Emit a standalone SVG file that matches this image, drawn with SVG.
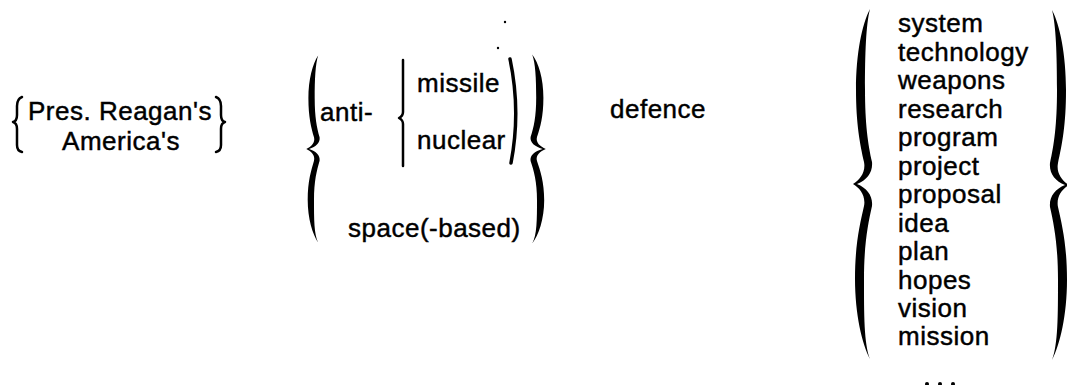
<svg xmlns="http://www.w3.org/2000/svg" width="1067" height="385" viewBox="0 0 1067 385">
<style>
text{font-family:"Liberation Sans",Arial,sans-serif;font-size:26px;fill:#000;stroke:#000;stroke-width:0.45;letter-spacing:0.5px}
.c{text-anchor:middle}
.thin{fill:none;stroke:#000;stroke-width:2.5;stroke-linecap:round;stroke-linejoin:round}
.big{fill:#000}
</style>
<defs>
<path id="brace" d="M16,-175 C8,-160 2,-130 2,-95 C2,-60 6,-40 10,-22 C12,-12 6,-4 -1,0 C6,4 12,12 10,22 C6,40 1,60 1,95 C1,130 8,160 16,175 C10,160 10,130 10,95 C10,60 14,40 18,22 C19,12 13,4 3,0 C13,-4 19,-12 18,-22 C14,-40 11,-60 11,-95 C11,-130 12,-160 16,-175 Z"/>
</defs>
<rect width="1067" height="385" fill="#fff"/>
<g id="subject">
<path class="thin" d="M22,97 Q17,99 17,106 L17,115 Q17,121 13,122 Q17,123 17,129 L17,145 Q17,151 22,152"/>
<text class="c" x="120" y="120">Pres. Reagan's</text>
<text class="c" x="121" y="150">America's</text>
<path class="thin" d="M216,97 Q221,99 221,106 L221,115 Q221,121 225,122 Q221,123 221,129 L221,145 Q221,151 216,152"/>
</g>
<g id="modifier">
<use href="#brace" class="big" transform="translate(307,149) scale(0.7,0.535)"/>
<text x="320" y="121">anti-</text>
<path class="thin" d="M403,60 L403,112 Q403,116 399,118 Q403,120 403,124 L403,166"/>
<text x="417" y="92">missile</text>
<text x="417" y="149">nuclear</text>
<path d="M510,59 Q521,111 511,163" fill="none" stroke="#000" stroke-width="3.5" stroke-linecap="round"/>
<text x="348" y="237">space(-based)</text>
<use href="#brace" class="big" transform="translate(545,149) scale(-0.8,0.54)"/>
<circle cx="505" cy="22" r="1.2" fill="#000"/>
<circle cx="498" cy="48" r="1.2" fill="#000"/>
</g>
<g id="head">
<text x="610" y="118">defence</text>
</g>
<g id="nouns">
<use href="#brace" class="big" transform="translate(854,184)"/>
<text x="898" y="32">system</text>
<text x="898" y="60.5">technology</text>
<text x="898" y="89">weapons</text>
<text x="898" y="117.5">research</text>
<text x="898" y="146">program</text>
<text x="898" y="174.5">project</text>
<text x="898" y="203">proposal</text>
<text x="898" y="231.5">idea</text>
<text x="898" y="260">plan</text>
<text x="898" y="288.5">hopes</text>
<text x="898" y="317">vision</text>
<text x="898" y="345">mission</text>
<use href="#brace" class="big" transform="translate(1068,185) scale(-1,1)"/>
<circle cx="927" cy="384" r="2" fill="#000"/>
<circle cx="940" cy="384" r="2" fill="#000"/>
<circle cx="953" cy="384" r="2" fill="#000"/>
</g>
<g id="connectors"/>
</svg>
